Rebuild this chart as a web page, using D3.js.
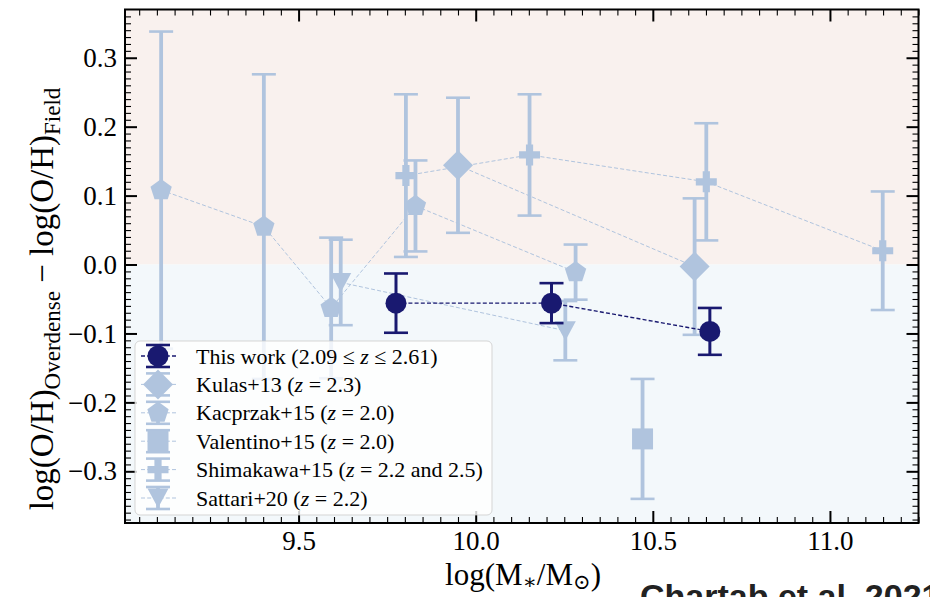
<!DOCTYPE html>
<html>
<head>
<meta charset="utf-8">
<script src="https://cdn.jsdelivr.net/npm/d3@7"></script>
<style>
  body { margin: 0; background: #fff; }
  svg { display: block; font-family: "Liberation Serif", "DejaVu Serif", serif; }
</style>
</head>
<body>
<div id="chart"></div>
<script>
/* metallicity offset vs stellar mass */

const width = 930, height = 597;
const frame = { left: 125, right: 918.5, top: 9.5, bottom: 523 };

const xLim = [9.01, 11.25];
const yLim = [-0.375, 0.37];
const xTicks = [9.5, 10.0, 10.5, 11.0];
const yTicks = [-0.3, -0.2, -0.1, 0.0, 0.1, 0.2, 0.3];

// this work
const workMass = [9.775, 10.214, 10.661];
const workDz   = [-0.056, -0.056, -0.097];
const workErr  = [0.043, 0.029, 0.034];

// Kulas+13
const kulasMass = [9.950, 10.618];
const kulasDz   = [0.144, -0.003];
const kulasErr  = [0.098, 0.099];

// Kacprzak+15
const kacMass = [9.112, 9.402, 9.592, 9.830, 10.282];
const kacDz   = [0.108, 0.055, -0.063, 0.085, -0.011];
const kacErr  = [0.230, 0.221, 0.102, 0.066, 0.040];

// Valentino+15
const valMass = [10.471];
const valDz   = [-0.253];
const valErr  = [0.087];

// Shimakawa+15
const shimMass = [9.803, 10.152, 10.651, 11.149];
const shimDz   = [0.129, 0.159, 0.120, 0.020];
const shimErr  = [0.118, 0.088, 0.085, 0.086];

// Sattari+20
const satMass = [9.619, 10.253];
const satDz   = [-0.026, -0.096];
const satErr  = [0.062, 0.043];

const light = "#b0c4de", dark = "#191970";

// marker shapes (relative to the point)
const pentagon = r => "M" + d3.range(5).map(k => {
    const a = -Math.PI / 2 + k * 2 * Math.PI / 5;
    return [r * Math.cos(a), r * Math.sin(a)].join(",");
}).join("L") + "Z";
const shapes = {
    circle: d3.symbol(d3.symbolCircle, Math.PI * 10.5 * 10.5)(),
    diamond: "M0,-15L15,0L0,15L-15,0Z",
    pentagon: pentagon(11.2),
    square: "M-10.5,-10.5H10.5V10.5H-10.5Z",
    plus: "M-3.6,-10.5H3.6V-3.6H10.5V3.6H3.6V10.5H-3.6V3.6H-10.5V-3.6H-3.6Z",
    tri: "M-10.5,-9.5H10.5L0,10Z"
};

const zIt = `<tspan font-style="italic">z</tspan>`;
const series = [
    { name: `This work (2.09 ≤ ${zIt} ≤ 2.61)`, mass: workMass, dz: workDz, err: workErr, color: dark, shape: "circle", lw: 1.4 },
    { name: `Kulas+13 (${zIt} = 2.3)`, mass: kulasMass, dz: kulasDz, err: kulasErr, color: light, shape: "diamond", lw: 1 },
    { name: `Kacprzak+15 (${zIt} = 2.0)`, mass: kacMass, dz: kacDz, err: kacErr, color: light, shape: "pentagon", lw: 1 },
    { name: `Valentino+15 (${zIt} = 2.0)`, mass: valMass, dz: valDz, err: valErr, color: light, shape: "square", lw: 1 },
    { name: `Shimakawa+15 (${zIt} = 2.2 and 2.5)`, mass: shimMass, dz: shimDz, err: shimErr, color: light, shape: "plus", lw: 1 },
    { name: `Sattari+20 (${zIt} = 2.2)`, mass: satMass, dz: satDz, err: satErr, color: light, shape: "tri", lw: 1 }
];

const svg = d3.select("#chart")
    .append("svg")
    .attr("width", width)
    .attr("height", height)
    .attr("viewBox", [0, 0, width, height]);

const x = d3.scaleLinear().domain(xLim).range([frame.left, frame.right]);
const y = d3.scaleLinear().domain(yLim).range([frame.bottom, frame.top]);

// shaded halves
svg.append("rect")
    .attr("x", x(xLim[0])).attr("y", y(yLim[1]))
    .attr("width", x(xLim[1]) - x(xLim[0])).attr("height", y(0) - y(yLim[1]))
    .attr("fill", "#f9f1ee");
svg.append("rect")
    .attr("x", x(xLim[0])).attr("y", y(0))
    .attr("width", x(xLim[1]) - x(xLim[0])).attr("height", y(yLim[0]) - y(0))
    .attr("fill", "#f3f8fb");

// data, light series first, this work on top
const plotOrder = series.slice(1).concat(series[0]);
const line = d3.line().x(d => x(d[0])).y(d => y(d[1]));

plotOrder.forEach(s => {
    const pts = s.mass.map((m, i) => [m, s.dz[i], s.err[i]]);
    const g = svg.append("g");
    if (pts.length > 1) {
        g.append("path")
            .attr("d", line(pts))
            .attr("fill", "none")
            .attr("stroke", s.color)
            .attr("stroke-width", s.lw)
            .attr("stroke-dasharray", "4,2.2");
    }
    const bw = s.color == dark ? 3 : 3.8;
    const e = g.selectAll(".err").data(pts).join("g");
    e.append("line")
        .attr("x1", d => x(d[0])).attr("x2", d => x(d[0]))
        .attr("y1", d => y(d[1] + d[2])).attr("y2", d => y(d[1] - d[2]))
        .attr("stroke", s.color).attr("stroke-width", bw);
    [1, -1].forEach(sg => {
        e.append("line")
            .attr("x1", d => x(d[0]) - 12).attr("x2", d => x(d[0]) + 12)
            .attr("y1", d => y(d[1] + sg * d[2])).attr("y2", d => y(d[1] + sg * d[2]))
            .attr("stroke", s.color).attr("stroke-width", 2.6);
    });
    g.selectAll(".mk").data(pts).join("path")
        .attr("d", shapes[s.shape])
        .attr("transform", d => `translate(${x(d[0])},${y(d[1])})`)
        .attr("fill", s.color);
});

// axes, inward ticks on all four sides
const minorX = d3.range(9.05, 11.26, 0.05).map(v => +v.toFixed(2)).filter(v => !xTicks.includes(v));
const minorY = d3.range(-0.37, 0.37, 0.01).map(v => +v.toFixed(2)).filter(v => !yTicks.includes(v));
const fmt = d => d3.format(".1f")(d).replace("-", "−");

function axes(axisFn, scale, pos, major, minor, labels) {
    const gMaj = svg.append("g").attr("transform", pos)
        .call(axisFn(scale).tickValues(major).tickSize(-12).tickPadding(8)
            .tickFormat(labels ? fmt : ""));
    const gMin = svg.append("g").attr("transform", pos)
        .call(axisFn(scale).tickValues(minor).tickSize(-6).tickFormat(""));
    gMaj.select(".domain").remove();
    gMin.select(".domain").remove();
    gMaj.selectAll("line").attr("stroke", "#000").attr("stroke-width", 2);
    gMin.selectAll("line").attr("stroke", "#000").attr("stroke-width", 1.1);
    gMaj.selectAll("text")
        .attr("font-family", "Liberation Serif, serif")
        .attr("font-size", 27).attr("fill", "#000");
}
axes(d3.axisBottom, x, `translate(0,${frame.bottom})`, xTicks, minorX, true);
axes(d3.axisTop, x, `translate(0,${frame.top})`, xTicks, minorX, false);
axes(d3.axisLeft, y, `translate(${frame.left},0)`, yTicks, minorY, true);
axes(d3.axisRight, y, `translate(${frame.right},0)`, yTicks, minorY, false);

svg.append("rect")
    .attr("x", frame.left).attr("y", frame.top)
    .attr("width", frame.right - frame.left).attr("height", frame.bottom - frame.top)
    .attr("fill", "none").attr("stroke", "#000").attr("stroke-width", 2);

// legend
const leg = svg.append("g").attr("transform", "translate(135,341)");
leg.append("rect")
    .attr("width", 357).attr("height", 174).attr("rx", 5)
    .attr("fill", "#fff").attr("fill-opacity", 0.8)
    .attr("stroke", "#ccc").attr("stroke-opacity", 0.8);
series.forEach((s, i) => {
    const row = leg.append("g").attr("transform", `translate(0,${15 + i * 28.4})`);
    row.append("line").attr("x1", 6).attr("x2", 43)
        .attr("stroke", s.color).attr("stroke-width", s.lw).attr("stroke-dasharray", "4,2.2");
    row.append("line").attr("x1", 23).attr("x2", 23).attr("y1", -11).attr("y2", 11)
        .attr("stroke", s.color).attr("stroke-width", s.color == dark ? 3 : 3.8);
    [-11, 11].forEach(v => row.append("line")
        .attr("x1", 11).attr("x2", 35).attr("y1", v).attr("y2", v)
        .attr("stroke", s.color).attr("stroke-width", 2.6));
    row.append("path").attr("d", shapes[s.shape])
        .attr("transform", "translate(23,0)").attr("fill", s.color);
    row.append("text").attr("x", 61).attr("y", 7.5)
        .attr("font-size", 22).attr("fill", "#000")
        .html(s.name);
});

// axis labels
svg.append("text")
    .attr("x", 523).attr("y", 585)
    .attr("text-anchor", "middle")
    .attr("font-size", 31)
    .html(`log(M<tspan font-size="21" dy="4">∗</tspan><tspan dy="-4">/M</tspan><tspan font-size="21" dy="4">⊙</tspan><tspan dy="-4">)</tspan>`);

svg.append("text")
    .attr("transform", "translate(53,299) rotate(-90)")
    .attr("text-anchor", "middle")
    .attr("font-size", 33)
    .html(`log(O/H)<tspan font-size="23" dy="7">Overdense</tspan><tspan dy="-7"> − log(O/H)</tspan><tspan font-size="23" dy="7">Field</tspan>`);

// source note, cut off by the page edge as in the original
svg.append("text")
    .attr("x", 640).attr("y", 608)
    .attr("font-family", "Liberation Sans, Arial, sans-serif")
    .attr("font-size", 34)
    .attr("font-weight", "bold")
    .attr("fill", "#222")
    .text("Chartab et al. 2021");
</script>
</body>
</html>
